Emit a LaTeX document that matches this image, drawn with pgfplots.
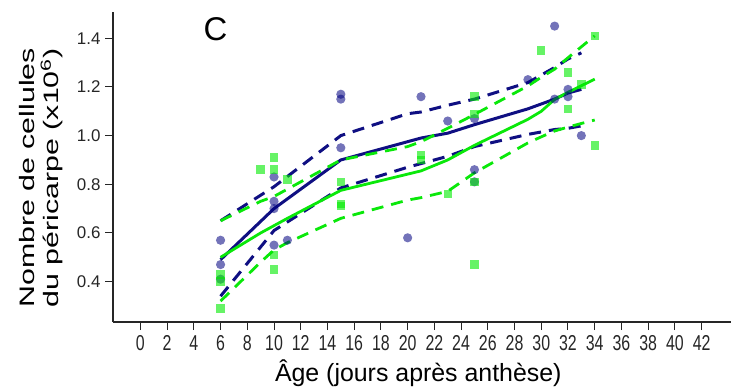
\documentclass[border=0pt]{standalone}
\usepackage{fontspec}
\setmainfont{Liberation Sans}
\usepackage{pgfplots}
\pgfplotsset{compat=1.18}
\usepackage{pgfplotstable}
\definecolor{navyc}{RGB}{15,15,130}
\definecolor{greenc}{RGB}{10,232,10}
\definecolor{bluept}{RGB}{0,0,128}
\definecolor{greenpt}{RGB}{0,235,0}

\pgfplotstableread{
x y
6 0.57
6 0.47
6 0.41
10 0.83
10 0.73
10 0.70
10 0.55
11 0.57
15 1.17
15 1.15
15 0.95
20 0.58
21 1.16
23 1.06
25 1.07
25 0.86
25 0.81
29 1.23
31 1.45
31 1.15
32 1.19
32 1.16
33 1.00
}\bluepts

\pgfplotstableread{
x y
6 0.43
6 0.40
6 0.29
9 0.86
10 0.91
10 0.86
10 0.51
10 0.45
11 0.82
15 0.81
15 0.72
15 0.71
21 0.92
21 0.90
23 0.76
25 1.16
25 1.09
25 0.81
25 0.47
30 1.35
32 1.26
32 1.11
33 1.21
34 1.41
34 0.96
}\greenpts

\pgfplotstableread{
x y
6 0.49
10 0.70
15 0.90
20 0.975
21 0.99
23 1.01
25 1.045
29 1.11
31 1.15
32 1.175
33 1.19
}\bluefit

\pgfplotstableread{
x y
6 0.65
10 0.79
15 1.00
20 1.09
21 1.097
23 1.125
25 1.15
29 1.218
31 1.28
32 1.315
33 1.34
}\blueup

\pgfplotstableread{
x y
6 0.34
10 0.61
15 0.785
20 0.87
21 0.885
23 0.915
25 0.955
29 1.005
31 1.025
32 1.03
33 1.04
}\bluelo

\pgfplotstableread{
x y
6 0.50
9 0.60
10 0.63
11 0.66
15 0.775
21 0.855
23 0.90
25 0.96
29 1.067
30 1.10
31 1.149
32 1.178
33 1.205
34 1.232
}\greenfit

\pgfplotstableread{
x y
6 0.65
9 0.73
10 0.75
11 0.78
15 0.90
20 0.955
21 0.975
23 1.03
25 1.087
29 1.204
30 1.24
31 1.273
32 1.32
33 1.365
34 1.41
}\greenup

\pgfplotstableread{
x y
6 0.32
9 0.48
10 0.53
11 0.56
15 0.66
20 0.735
21 0.745
23 0.771
25 0.847
29 0.97
30 0.995
31 1.019
32 1.035
33 1.05
34 1.064
}\greenlo

\begin{document}
\begin{tikzpicture}[x=1bp,y=1bp]
\path[use as bounding box] (0,0) rectangle (731,390);
\begin{axis}[
  at={(113bp,68bp)}, anchor=south west,
  width=618bp, height=310bp, scale only axis,
  xmin=-2.05, xmax=44.2, ymin=0.234, ymax=1.508,
  axis x line*=bottom, axis y line*=left,
  axis line style={line width=1.2pt, black!85},
  tick style={line width=1pt, black!85},
  tick align=outside, major tick length=8bp,
  xtick={0,2,...,42},
  ytick={0.4,0.6,...,1.41},
  /pgf/number format/assume math mode=true,
  y tick label style={/pgf/number format/fixed, /pgf/number format/fixed zerofill, /pgf/number format/precision=1},
  xticklabel={\scalebox{1}[1.35]{\pgfmathprintnumber{\tick}}},
  xticklabel style={font=\fontsize{16}{16}\selectfont, text=black!85, yshift=-2bp},
  yticklabel style={font=\fontsize{17}{17}\selectfont, text=black!85, xshift=-1bp},
  xlabel={\fontsize{25}{25}\selectfont Âge (jours après anthèse)},
  xlabel style={at={(axis description cs:0.494,0)}, anchor=north, yshift=-34bp},
  ylabel={\fontsize{21}{22}\selectfont\scalebox{1.45}[1]{\begin{tabular}{@{}c@{}}Nombre de cellules\\du péricarpe (x10\textsuperscript{6})\end{tabular}}},
  ylabel style={at={(axis description cs:-0.115,0.465)}, anchor=center},
  clip=false,
]
\addplot[only marks, color=bluept, draw opacity=0, mark=*, mark size=4.6bp, mark options={draw opacity=0, fill=bluept, fill opacity=0.55}] table {\bluepts};
\addplot[only marks, color=greenpt, draw opacity=0, mark=square*, mark size=4.2bp, mark options={draw opacity=0, fill=greenpt, fill opacity=0.6}] table {\greenpts};
\addplot[navyc, line width=3bp] table {\bluefit};
\addplot[navyc, line width=3bp, dash pattern=on 12bp off 8bp] table {\blueup};
\addplot[navyc, line width=3bp, dash pattern=on 12bp off 8bp] table {\bluelo};
\addplot[greenc, line width=2.8bp] table {\greenfit};
\addplot[greenc, line width=2.8bp, dash pattern=on 12bp off 8bp] table {\greenup};
\addplot[greenc, line width=2.8bp, dash pattern=on 12bp off 8bp] table {\greenlo};
\node[font=\fontsize{33}{33}\selectfont] at (axis description cs:0.166,0.945) {C};
\end{axis}
\end{tikzpicture}
\end{document}
